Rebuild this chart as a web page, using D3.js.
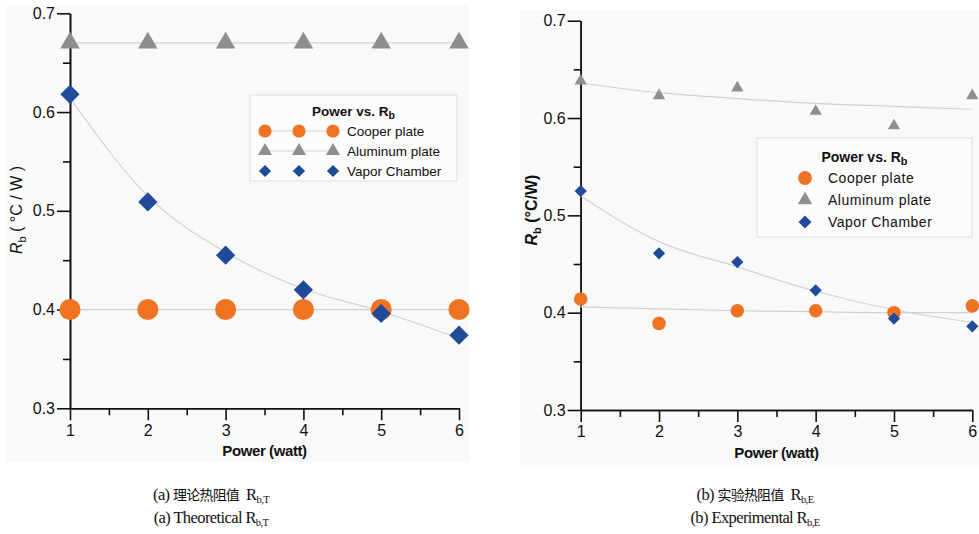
<!DOCTYPE html>
<html>
<head>
<meta charset="utf-8">
<script src="https://cdn.jsdelivr.net/npm/d3@7"></script>
<style>
  body { margin: 0; background: #fff; }
  svg { display: block; font-family: "Liberation Sans", Arial, sans-serif; }
</style>
</head>
<body>
<svg id="chart" width="979" height="534"></svg>
<script>
// Power levels on the x axis (watt)
const powers = [1, 2, 3, 4, 5, 6];
const xMinorTicks = [1.5, 2.5, 3.5, 4.5, 5.5];
const yTicks = [0.3, 0.4, 0.5, 0.6, 0.7];
const yMinorTicks = [0.35, 0.45, 0.55, 0.65];

// (a) theoretical Rb
const theoCopper = [0.4, 0.4, 0.4, 0.4, 0.4, 0.4];
const theoCopperFit = [0.4, 0.4, 0.4, 0.4, 0.4, 0.4];
const theoAluminum = [0.67, 0.67, 0.67, 0.67, 0.67, 0.67];
const theoAluminumFit = [0.67, 0.67, 0.67, 0.67, 0.67, 0.67];
const theoVapor = [0.618, 0.509, 0.455, 0.420, 0.396, 0.374];
const theoVaporFit = [0.614, 0.515, 0.458, 0.421, 0.398, 0.371];

// (b) experimental Rb
const expCopper = [0.414, 0.389, 0.402, 0.402, 0.400, 0.407];
const expCopperFit = [0.406, 0.404, 0.402, 0.401, 0.400, 0.400];
const expAluminum = [0.638, 0.623, 0.631, 0.607, 0.592, 0.623];
const expAluminumFit = [0.636, 0.626, 0.620, 0.615, 0.612, 0.609];
const expVapor = [0.525, 0.461, 0.452, 0.423, 0.394, 0.386];
const expVaporFit = [0.520, 0.473, 0.447, 0.422, 0.403, 0.390];

const seriesNames = ["Cooper plate", "Aluminum plate", "Vapor Chamber"];

const orange = "#ee7423";
const gray = "#8e8e91";
const blue = "#1f4b9a";
const fitColor = "#d2d2d2";

const svg = d3.select("#chart");

// diamond = square turned by 45 degrees
const shapes = {
  circle: d3.symbolCircle,
  triangle: d3.symbolTriangle,
  diamond: d3.symbolSquare
};

function marker(g, shape, size, color, x, y) {
  g.append("path")
    .attr("d", d3.symbol(shapes[shape], size)())
    .attr("transform", `translate(${x},${y})` + (shape === "diamond" ? " rotate(45)" : ""))
    .attr("fill", color);
}

function drawPanel(p) {
  const x = d3.scaleLinear().domain([1, 6]).range([p.x0, p.x1]);
  const y = d3.scaleLinear().domain([0.3, 0.7]).range([p.y0, p.y1]);

  svg.append("rect")
    .attr("x", p.bg[0]).attr("y", p.bg[1])
    .attr("width", p.bg[2] - p.bg[0]).attr("height", p.bg[3] - p.bg[1])
    .attr("fill", "#f9f9f9");

  // axes: minor ticks first, then major ones with labels
  const yMinor = svg.append("g").attr("transform", `translate(${p.x0},0)`)
    .call(d3.axisLeft(y).tickValues(yMinorTicks).tickSize(7).tickSizeOuter(0).tickFormat(""));
  const yMajor = svg.append("g").attr("transform", `translate(${p.x0},0)`)
    .call(d3.axisLeft(y).tickValues(yTicks).tickSize(13).tickSizeOuter(0).tickPadding(2)
      .tickFormat(d3.format(".1f")));
  const xMinor = svg.append("g").attr("transform", `translate(0,${p.y0})`)
    .call(d3.axisBottom(x).tickValues(xMinorTicks).tickSize(7).tickSizeOuter(0).tickFormat(""));
  const xMajor = svg.append("g").attr("transform", `translate(0,${p.y0})`)
    .call(d3.axisBottom(x).tickValues(powers).tickSize(12).tickSizeOuter(0).tickPadding(4)
      .tickFormat(d3.format("d")));

  [yMinor, yMajor, xMinor, xMajor].forEach(a => {
    a.selectAll("path, line").attr("stroke", "#111").attr("stroke-width", 1.6);
    a.selectAll("text").attr("font-size", 16).attr("fill", "#111")
      .attr("font-family", "Liberation Sans, Arial, sans-serif");
  });

  svg.append("text")
    .attr("x", (p.x0 + p.x1) / 2).attr("y", p.y0 + 48)
    .attr("text-anchor", "middle")
    .attr("font-size", 15).attr("font-weight", "bold").attr("letter-spacing", -0.4)
    .attr("fill", "#111")
    .text("Power (watt)");

  // y axis title
  const yt = svg.append("text")
    .attr("transform", `translate(${p.yTitleX},210) rotate(-90)`)
    .attr("text-anchor", "middle")
    .attr("font-size", 16).attr("fill", "#111")
    .attr("font-weight", p.yTitleBold ? "bold" : "normal");
  yt.append("tspan").attr("font-style", "italic").text("R");
  yt.append("tspan").attr("font-size", 11).attr("dy", 4).text("b");
  yt.append("tspan").attr("dy", -4).text(p.yTitleUnit);

  // fitted curves
  const line = d3.line()
    .x((d, i) => x(powers[i]))
    .y(d => y(d))
    .curve(d3.curveMonotoneX);
  p.series.forEach(s => {
    svg.append("path")
      .attr("d", line(s.fit))
      .attr("fill", "none")
      .attr("stroke", fitColor)
      .attr("stroke-width", 1.2);
  });

  // markers
  const mg = svg.append("g");
  p.series.forEach(s => {
    s.values.forEach((v, i) => marker(mg, s.shape, s.size, s.color, x(powers[i]), y(v)));
  });

  // legend
  const L = p.legend;
  svg.append("rect")
    .attr("x", L.box[0]).attr("y", L.box[1])
    .attr("width", L.box[2] - L.box[0]).attr("height", L.box[3] - L.box[1])
    .attr("fill", "#fcfcfc").attr("stroke", "#dedede").attr("stroke-width", 1);
  const lt = svg.append("text")
    .attr("x", (L.box[0] + L.box[2]) / 2).attr("y", L.titleY)
    .attr("text-anchor", "middle")
    .attr("font-size", L.titleFont).attr("font-weight", "bold").attr("fill", "#111");
  lt.append("tspan").text("Power vs. R");
  lt.append("tspan").attr("font-size", L.titleFont - 3).attr("dy", 3).text("b");

  p.series.forEach((s, k) => {
    const ry = L.rowY[k];
    if (L.markerX.length > 1 && s.legendLine) {
      svg.append("line")
        .attr("x1", L.markerX[0]).attr("x2", L.markerX[L.markerX.length - 1])
        .attr("y1", ry).attr("y2", ry)
        .attr("stroke", fitColor).attr("stroke-width", 1.2);
    }
    L.markerX.forEach(mx => marker(svg, s.shape, L.sizes[k], s.color, mx, ry));
    svg.append("text")
      .attr("x", L.textX).attr("y", ry)
      .attr("dy", "0.35em")
      .attr("font-size", L.font).attr("fill", "#111")
      .attr("letter-spacing", L.spacing)
      .text(seriesNames[k]);
  });

  // caption under the panel
  const serif = "Liberation Serif, 'Times New Roman', serif";
  const c1 = svg.append("text")
    .attr("x", p.capX).attr("y", 500)
    .attr("text-anchor", "middle")
    .attr("font-family", serif)
    .attr("font-size", 16.5).attr("letter-spacing", -0.6).attr("fill", "#111");
  c1.append("tspan").text(p.capTag + "\u00a0");
  c1.append("tspan").attr("font-family", "'Noto Sans CJK SC', sans-serif")
    .attr("font-size", 14).attr("letter-spacing", -0.8).text(p.capCn);
  c1.append("tspan").text("\u00a0\u00a0R");
  c1.append("tspan").attr("font-size", 10.5).attr("dy", 3).text(p.capSub);
  const c2 = svg.append("text")
    .attr("x", p.capX).attr("y", 523)
    .attr("text-anchor", "middle")
    .attr("font-family", serif)
    .attr("font-size", 16.5).attr("letter-spacing", -0.6).attr("fill", "#111");
  c2.append("tspan").text(p.capTag + " " + p.capEn + " R");
  c2.append("tspan").attr("font-size", 10.5).attr("dy", 3).text(p.capSub);
}

drawPanel({
  x0: 70, x1: 459, y0: 408.3, y1: 13.3,
  bg: [7, 5, 469, 462],
  yTitleX: 22, yTitleBold: false, yTitleUnit: " ( \u00b0C / W )",
  series: [
    { values: theoCopper, fit: theoCopperFit, shape: "circle", size: 350, color: orange, legendLine: true },
    { values: theoAluminum, fit: theoAluminumFit, shape: "triangle", size: 165, color: gray, legendLine: true },
    { values: theoVapor, fit: theoVaporFit, shape: "diamond", size: 185, color: blue, legendLine: false }
  ],
  legend: {
    box: [250, 95, 457, 181], titleY: 116, titleFont: 13.5, font: 13.5, spacing: 0,
    rowY: [131, 151, 171], markerX: [265, 299, 333], textX: 347,
    sizes: [135, 85, 75]
  },
  capX: 211, capTag: "(a)", capCn: "理论热阻值", capEn: "Theoretical", capSub: "b,T"
});

drawPanel({
  x0: 580.7, x1: 972.3, y0: 410, y1: 20.7,
  bg: [520, 10, 979, 465],
  yTitleX: 537, yTitleBold: true, yTitleUnit: " (\u00b0C/W)",
  series: [
    { values: expCopper, fit: expCopperFit, shape: "circle", size: 145, color: orange, legendLine: false },
    { values: expAluminum, fit: expAluminumFit, shape: "triangle", size: 65, color: gray, legendLine: false },
    { values: expVapor, fit: expVaporFit, shape: "diamond", size: 75, color: blue, legendLine: false }
  ],
  legend: {
    box: [757, 138, 972, 237], titleY: 162, titleFont: 14, font: 14, spacing: 0.5,
    rowY: [178, 200, 222], markerX: [805], textX: 828,
    sizes: [150, 90, 85]
  },
  capX: 755, capTag: "(b)", capCn: "实验热阻值", capEn: "Experimental", capSub: "b,E"
});
</script>
</body>
</html>
